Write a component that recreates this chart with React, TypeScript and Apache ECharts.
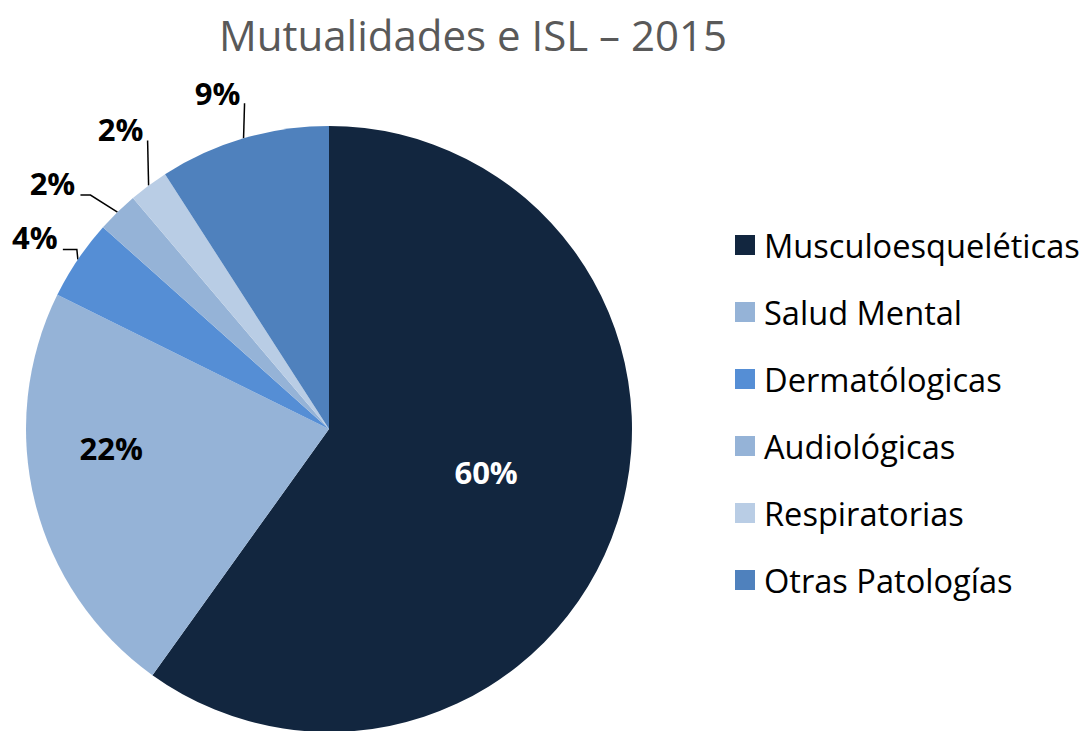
import React, { useEffect, useRef } from "react";
import * as echarts from "echarts";

const title = "Mutualidades e ISL – 2015";
const categories = [
  "Musculoesqueléticas",
  "Salud Mental",
  "Dermatólogicas",
  "Audiológicas",
  "Respiratorias",
  "Otras Patologías",
];
const values = [59.9, 22.4, 4.3, 2.2, 2.1, 9.1];
const colors = ["#12263F", "#95B3D7", "#558ED5", "#95B3D7", "#B9CDE5", "#4F81BD"];
const insideLabel = [true, true, false, false, false, false];
const labelColors = ["#FFFFFF", "#000000", "#000000", "#000000", "#000000", "#000000"];

// label styling: inside-label nudges and outside leader-line shapes (relative offsets)
const insideShift = [[10, -4], [-68, -18], null, null, null, null];
const leaderSegs: (number[][] | null)[] = [
  null,
  null,
  [[-1, -10], [-14, 0]],
  [[-27, -17], [-10, 0]],
  [[-1, -45], [0, 0]],
  [[1, -35], [0, 0]],
];
const labelFromEnd = [null, null, [-28, -12], [-28, -12], [-27, -12], [-27, -10]];

const FONT = "'Open Sans', 'Noto Sans', sans-serif";

export default function App() {
  const ref = useRef<HTMLDivElement>(null);
  useEffect(() => {
    if (!ref.current) return;
    const chart = echarts.init(ref.current, undefined, { renderer: "svg" });
    const data = categories.map((name, i) => ({
      name,
      value: values[i],
      itemStyle: { color: colors[i] },
      label: {
        position: insideLabel[i] ? "inside" : "outside",
        color: labelColors[i],
      },
      labelLine: { show: !insideLabel[i] },
    }));
    chart.setOption({
      animation: false,
      backgroundColor: "#FFFFFF",
      title: {
        text: title,
        left: 468,
        textAlign: "center",
        top: 8,
        textStyle: {
          fontFamily: FONT,
          fontSize: 42,
          fontWeight: "normal",
          color: "#595959",
        },
      },
      legend: {
        orient: "vertical",
        left: 735,
        top: 225,
        padding: 0,
        icon: "rect",
        itemWidth: 20,
        itemHeight: 20,
        itemGap: 27,
        data: categories,
        textStyle: {
          fontFamily: FONT,
          fontSize: 32.6,
          color: "#000000",
          lineHeight: 40,
          padding: [0, 0, 0, 4],
        },
      },
      series: [
        {
          type: "pie",
          center: [329, 429],
          radius: 303,
          startAngle: 90,
          clockwise: true,
          avoidLabelOverlap: false,
          legendHoverLink: false,
          data,
          label: {
            show: true,
            fontFamily: FONT,
            fontSize: 31,
            fontWeight: "bold",
            formatter: (p: any) => Math.round(p.value) + "%",
          },
          labelLine: {
            show: true,
            length: 12,
            length2: 12,
            lineStyle: { color: "#000000", width: 1.5 },
          },
          labelLayout: (params: any) => {
            const i = params.dataIndex;
            if (insideLabel[i]) {
              const s = insideShift[i] as number[];
              return { dx: s[0], dy: s[1], hideOverlap: false };
            }
            const segs = leaderSegs[i] as number[][];
            const p0 = params.labelLinePoints[0];
            const p1 = [p0[0] + segs[0][0], p0[1] + segs[0][1]];
            const p2 = [p1[0] + segs[1][0], p1[1] + segs[1][1]];
            const lo = labelFromEnd[i] as number[];
            return {
              x: p2[0] + lo[0],
              y: p2[1] + lo[1],
              align: "center",
              verticalAlign: "middle",
              labelLinePoints: [p0, p1, p2],
              hideOverlap: false,
            };
          },
        },
      ],
    });
    return () => chart.dispose();
  }, []);
  return (
    <div
      ref={ref}
      style={{ position: "absolute", left: 0, top: 0, width: 1085, height: 731 }}
    />
  );
}
